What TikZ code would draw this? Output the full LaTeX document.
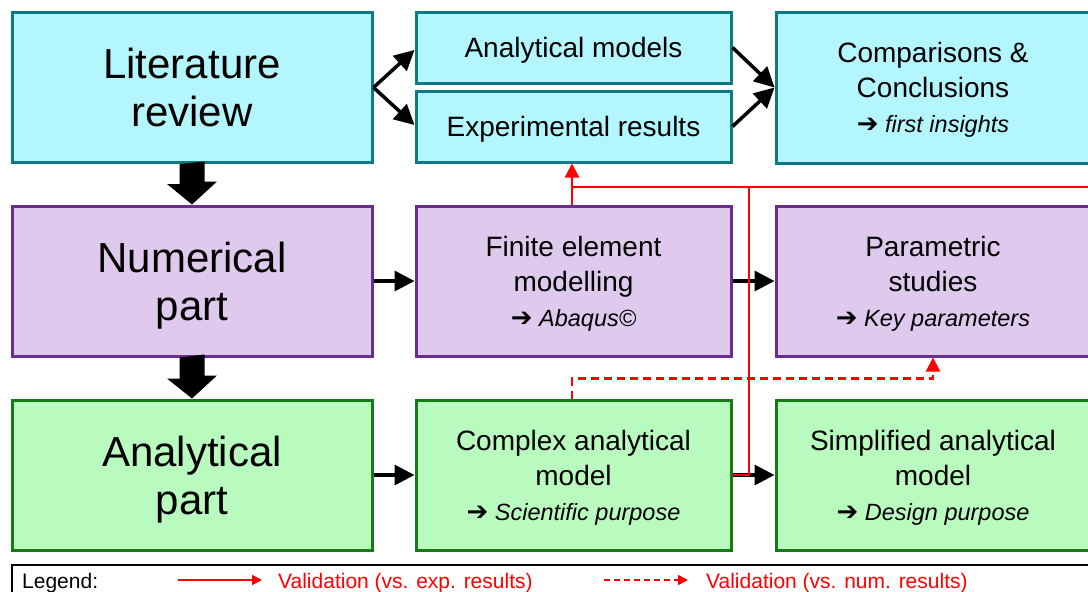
\documentclass[tikz,border=0pt]{standalone}
\usepackage{fontspec}
\setmainfont{Liberation Sans}
\newfontfamily\symfont{DejaVu Sans}
\usetikzlibrary{arrows.meta}

\definecolor{litfill}{HTML}{B3F6FD}
\definecolor{litline}{HTML}{107A84}
\definecolor{numfill}{HTML}{DFCAEE}
\definecolor{numline}{HTML}{6A2C8E}
\definecolor{anafill}{HTML}{B9FBBE}
\definecolor{analine}{HTML}{167A16}
\definecolor{valred}{HTML}{FF0000}

% italic sub-line with a heavy arrow in front
\newcommand{\subnote}[1]{{\fontsize{23.5}{28}\selectfont{\symfont\fontsize{26}{28}\selectfont ➔} \itshape #1}}

\begin{document}
\begin{tikzpicture}[x=1pt,y=-1pt,
  box/.style={draw, line width=3pt, inner sep=0pt, align=center, text=black, text depth=0pt},
  widebox/.style={box, minimum width=360pt, minimum height=150pt, font=\fontsize{42}{48}\selectfont},
  midbox/.style={box, minimum width=315pt, minimum height=150pt, font=\fontsize{28}{35}\selectfont},
  thinbox/.style={box, minimum width=315pt, minimum height=71pt, font=\fontsize{28}{35}\selectfont},
  rightbox/.style={box, minimum width=314pt, minimum height=150pt, font=\fontsize{28}{35}\selectfont},
  lit/.style={fill=litfill, draw=litline},
  num/.style={fill=numfill, draw=numline},
  ana/.style={fill=anafill, draw=analine},
  flow/.style={line width=3.5pt, -{Triangle[length=20pt,width=20pt]}},
  val/.style={valred, line width=2.2pt},
  valtip/.style={-{Triangle[length=14pt,width=14pt]}},
  valdash/.style={dash pattern=on 8pt off 5pt},
  legendtext/.style={anchor=base west, inner sep=0pt, font=\fontsize{21}{25}\selectfont}
]
\useasboundingbox (0,0) rectangle (1088,592);
\clip (0,0) rectangle (1088,592);

% top row
\node[widebox, lit] (litrev) at (192,87.5) {Literature\\review};
\node[thinbox, lit] (anmod) at (573.5,47.5) {Analytical models};
\node[thinbox, lit] (expres) at (573.5,126.5) {Experimental results};
\node[rightbox, lit, minimum height=151pt] (compar) at (933,87.5)
  {Comparisons \&\\Conclusions\\\subnote{first insights}};

% middle row
\node[widebox, num] (numpart) at (192,281) {Numerical\\part};
\node[midbox, num] (fem) at (573.5,281) {Finite element\\modelling\\\subnote{Abaqus©}};
\node[rightbox, num] (param) at (933,281) {Parametric\\studies\\\subnote{Key parameters}};

% bottom row
\node[widebox, ana] (anapart) at (192,475) {Analytical\\part};
\node[midbox, ana] (complex) at (573.5,475) {Complex analytical\\model\\\subnote{Scientific purpose}};
\node[rightbox, ana] (simple) at (933,475) {Simplified analytical\\model\\\subnote{Design purpose}};

% fork out of the literature review
\coordinate (fork) at (litrev.east);
\draw[flow] (fork) -- (anmod.west |- 0,50);
\draw[flow] (fork) -- (expres.west |- 0,125);
\draw[flow] (anmod.east) -- (compar.west);
\draw[flow] (expres.east) -- (compar.west);

% horizontal flow
\draw[flow] (numpart.east) -- (fem.west);
\draw[flow] (fem.east) -- (param.west);
\draw[flow] (anapart.east) -- (complex.west);
\draw[flow] (complex.east) -- (simple.west);

% block arrows down the left column
\fill (litrev.south) ++(-12.5,0) -- ++(0,20) -- ++(-12.5,0) -- (numpart.north)
  -- ++(25,-23) -- ++(-12.5,0) -- ++(0,-20) -- cycle;
\fill (numpart.south) ++(-12.5,0) -- ++(0,21) -- ++(-12.5,0) -- (anapart.north)
  -- ++(25,-23) -- ++(-12.5,0) -- ++(0,-21) -- cycle;

% validation against experimental results
\coordinate (rj) at (749,187);
\coordinate (offr) at (1100,187);
\draw[val, valtip] ([xshift=-1.5pt]fem.north) -- ([xshift=-1.5pt]expres.south);
\draw[val] ([xshift=-1.5pt]fem.north |- rj) -- (offr);
\draw[val] (complex.east) -- (complex.east -| rj) -- (rj);

% validation against numerical results
\draw[val, valtip, valdash] ([xshift=-1.5pt]complex.north) -- ++(0,-20) -| (param.south);

% legend
\coordinate (lgA) at (12,565);
\coordinate (lgB) at (1100,610);
\draw[line width=1.5pt] (lgA) rectangle (lgB);
\node[legendtext] (lglabel) at (22,588) {Legend:};
\coordinate (la1) at (178,580);
\coordinate (la2) at (262,580);
\draw[valred, line width=1.8pt, -{Triangle[length=10pt,width=10pt]}] (la1) -- (la2);
\node[legendtext, text=valred] (lgexp) at (278,588) {Validation (vs. exp. results)};
\coordinate (lb1) at (604,580);
\coordinate (lb2) at (688,580);
\draw[valred, line width=1.8pt, dash pattern=on 6pt off 4pt, -{Triangle[length=10pt,width=10pt]}] (lb1) -- (lb2);
\node[legendtext, text=valred] (lgnum) at (706,588) {Validation (vs. num. results)};
\end{tikzpicture}
\end{document}
